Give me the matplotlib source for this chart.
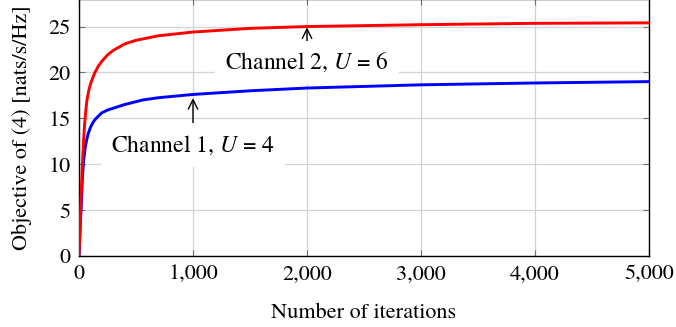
import matplotlib
matplotlib.use('Agg')
import matplotlib.pyplot as plt
from matplotlib.ticker import FuncFormatter

plt.rcParams['font.family'] = 'serif'
plt.rcParams['font.serif'] = ['TeX Gyre Termes', 'Liberation Serif']
plt.rcParams['mathtext.fontset'] = 'stix'

# === Данные кривых ===
iters_ch2 = [0, 5, 10, 15, 20, 30, 40, 50, 60, 70, 85, 100, 120, 140, 170, 200, 250, 300, 400, 500, 700,
             1000, 1500, 2000, 3000, 4000, 5000]
obj_ch2 = [0, 1.5, 3, 5, 7, 10, 12.6, 14.5, 15.9, 17.0, 18.0, 18.7, 19.4, 20.0, 20.7, 21.2, 21.9, 22.4,
           23.1, 23.5, 24.0, 24.4, 24.8, 25.0, 25.2, 25.35, 25.4]

iters_ch1 = [0, 5, 10, 15, 20, 30, 40, 50, 60, 70, 80, 100, 125, 150, 200, 250, 300, 400, 560, 700,
             1000, 1500, 2000, 3000, 4000, 5000]
obj_ch1 = [0, 1.5, 3, 4.3, 5.5, 8.5, 10.3, 11.4, 12.2, 12.8, 13.3, 14.0, 14.6, 15.0, 15.6, 15.9, 16.1,
           16.5, 17.0, 17.25, 17.6, 18.0, 18.3, 18.65, 18.85, 19.0]

xticks = [0, 1000, 2000, 3000, 4000, 5000]
yticks = [0, 5, 10, 15, 20, 25]

fig = plt.figure(figsize=(6.76, 3.27), dpi=100)
ax = fig.add_axes([79 / 676, 71 / 327, 570 / 676, 257 / 327])

ax.plot(iters_ch1, obj_ch1, color='blue', linewidth=2.1, zorder=3)
ax.plot(iters_ch2, obj_ch2, color='red', linewidth=2.1, zorder=3)

ax.set_xlim(0, 5000)
ax.set_ylim(0, 28)
ax.set_xticks(xticks)
ax.set_yticks(yticks)
ax.xaxis.set_major_formatter(FuncFormatter(lambda v, p: f'{int(v):,}'))
ax.grid(True, color='#d3d3d3', linewidth=0.9)
ax.set_axisbelow(True)
ax.tick_params(direction='in', length=4, width=0.8, color='#707070',
               top=True, right=True, labelsize=16, pad=6)
for s in ax.spines.values():
    s.set_linewidth(1.0)

ax.set_xlabel('Number of iterations', fontsize=16, labelpad=14)
ax.set_ylabel('Objective of (4) [nats/s/Hz]', fontsize=16, labelpad=12)

# подписи каналов со стрелками
box = dict(boxstyle='square,pad=0.42', facecolor='white', edgecolor='none')
ax.annotate('Channel 2, $U$ = 6', xy=(2000, 24.9), xytext=(2000, 21.1),
            ha='center', va='center', fontsize=17, bbox=box,
            arrowprops=dict(arrowstyle='->', color='black', lw=1.0, shrinkA=0, shrinkB=0),
            zorder=4)
ax.annotate('Channel 1, $U$ = 4', xy=(1000, 17.2), xytext=(1000, 12.1),
            ha='center', va='center', fontsize=17, bbox=box,
            arrowprops=dict(arrowstyle='->', color='black', lw=1.0, shrinkA=0, shrinkB=0),
            zorder=4)

fig.savefig('out.png', dpi=100)
